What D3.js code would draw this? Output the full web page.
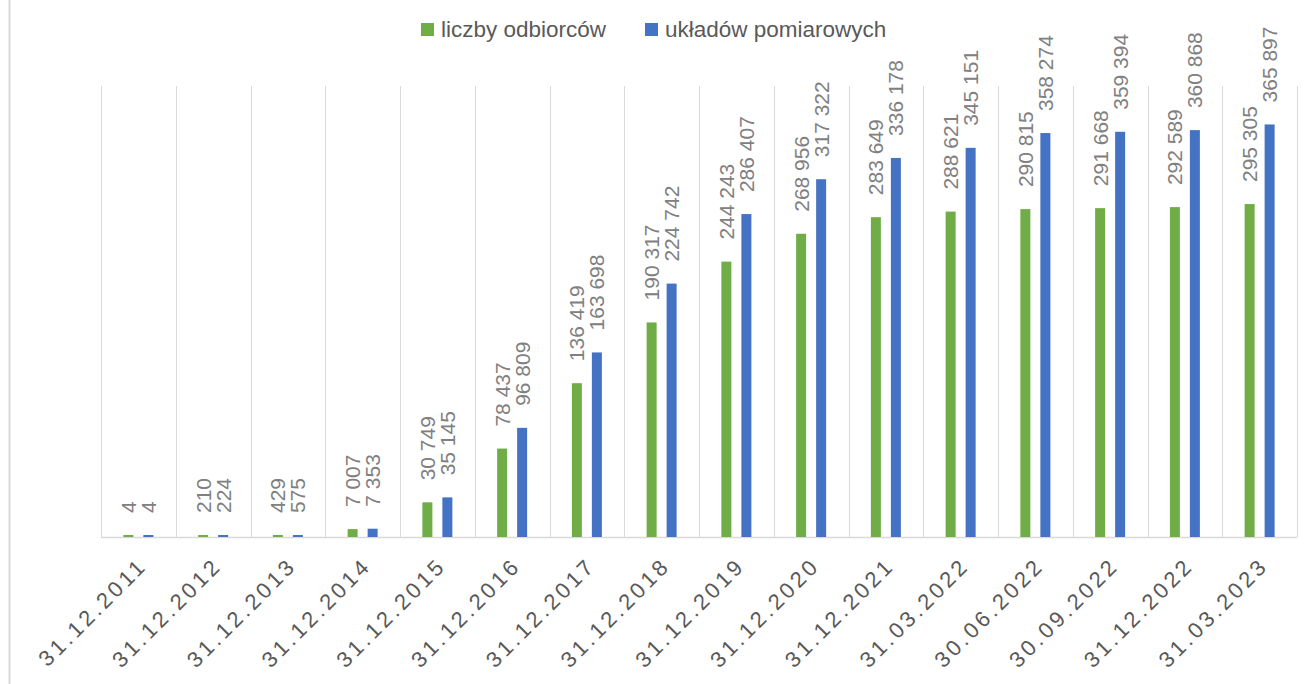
<!DOCTYPE html>
<html><head><meta charset="utf-8">
<script src="https://cdn.jsdelivr.net/npm/d3@7"></script>
<style>html,body{margin:0;padding:0;background:#fff;}svg{display:block;}</style>
</head><body>
<svg id="c" width="1316" height="684"></svg>
<script>
const categories = ["31.12.2011","31.12.2012","31.12.2013","31.12.2014","31.12.2015","31.12.2016","31.12.2017","31.12.2018","31.12.2019","31.12.2020","31.12.2021","31.03.2022","30.06.2022","30.09.2022","31.12.2022","31.03.2023"];
const seriesNames = ["liczby odbiorców","układów pomiarowych"];
const odbiorcy = [4,210,429,7007,30749,78437,136419,190317,244243,268956,283649,288621,290815,291668,292589,295305];
const uklady = [4,224,575,7353,35145,96809,163698,224742,286407,317322,336178,345151,358274,359394,360868,365897];
const colors = ["#70ad47","#4472c4"];
const yMax = 400000;

(function(){
const svg = d3.select("#c");
const pLeft = 101, pRight = 1297, pTop = 86, pBottom = 537;
const font = "'Liberation Sans', Arial, sans-serif";

svg.append("line").attr("x1",9.5).attr("x2",9.5).attr("y1",0).attr("y2",684)
  .attr("stroke","#d9d9d9").attr("stroke-width",2);

const x = d3.scaleBand().domain(categories).range([pLeft, pRight]).padding(0);
const bw = x.bandwidth();
const x1 = d3.scaleBand().domain(seriesNames).range([bw/2-20, bw/2+20]).paddingInner(0.5).paddingOuter(0.25);
const y = d3.scaleLinear().domain([0, yMax]).range([pBottom, pTop]);

const bounds = categories.map(c => x(c)).concat([x(categories[categories.length-1]) + bw]);
svg.append("g").selectAll("line").data(bounds).join("line")
  .attr("x1", d => Math.round(d)+0.5).attr("x2", d => Math.round(d)+0.5)
  .attr("y1", pTop).attr("y2", pBottom)
  .attr("stroke","#d9d9d9").attr("stroke-width",1);

svg.append("line").attr("x1", pLeft).attr("x2", pRight).attr("y1", pBottom+0.5).attr("y2", pBottom+0.5)
  .attr("stroke","#d9d9d9").attr("stroke-width",1.5);

const rows = categories.map((c,i) => ({c, vals:[{s:seriesNames[0], v:odbiorcy[i], col:colors[0]},{s:seriesNames[1], v:uklady[i], col:colors[1]}]}));
const fmt = v => d3.format(",")(v).replace(/,/g, " ");

const g = svg.append("g").selectAll("g").data(rows).join("g")
  .attr("transform", d => `translate(${x(d.c)},0)`);

g.selectAll("rect").data(d => d.vals).join("rect")
  .attr("x", d => x1(d.s))
  .attr("width", x1.bandwidth())
  .attr("y", d => Math.min(y(d.v), pBottom-2))
  .attr("height", d => Math.max(pBottom - y(d.v), 2))
  .attr("fill", d => d.col);

g.selectAll("text").data(d => d.vals).join("text")
  .attr("transform", d => `translate(${x1(d.s) + x1.bandwidth()/2},${Math.min(y(d.v), pBottom-2) - 22}) rotate(-90)`)
  .attr("dy","0.36em")
  .attr("text-anchor","start")
  .attr("font-family", font).attr("font-size", 21)
  .attr("fill","#808080")
  .text(d => fmt(d.v));

svg.append("g").selectAll("text").data(categories).join("text")
  .attr("transform", d => `translate(${x(d) + bw/2 + 10},${pBottom + 30}) rotate(-45)`)
  .attr("text-anchor","end")
  .attr("font-family", font).attr("font-size", 22).attr("letter-spacing", 3.4)
  .attr("fill","#595959")
  .text(d => d);

const legend = svg.append("g");
const legX = [421, 645];
seriesNames.forEach((s,i) => {
  legend.append("rect").attr("x", legX[i]).attr("y", 23).attr("width", 13).attr("height", 13).attr("fill", colors[i]);
  legend.append("text").attr("x", legX[i] + 20).attr("y", 37)
    .attr("font-family", font).attr("font-size", 22.5).attr("fill","#595959")
    .text(s);
});
})();
</script>
</body></html>
